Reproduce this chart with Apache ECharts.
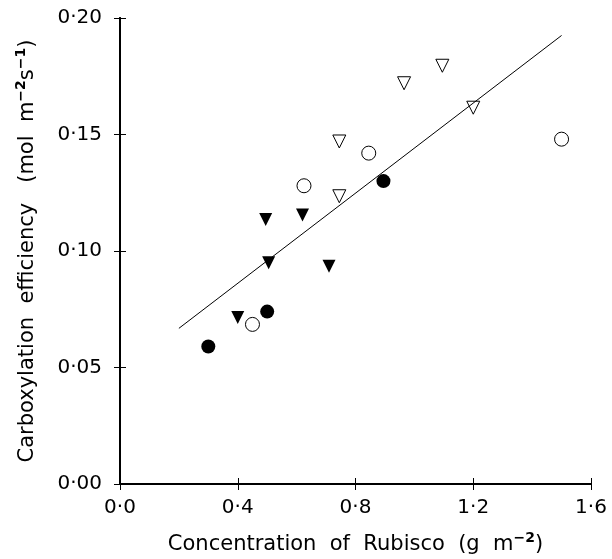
<!DOCTYPE html>
<html lang="en">
<head>
    <meta charset="UTF-8">
    <script src="https://cdn.jsdelivr.net/npm/echarts@6/dist/echarts.min.js"></script>
    <title>Carboxylation efficiency vs Rubisco</title>
    <style>
        html, body { margin: 0; padding: 0; background: #fff; }
        #chart { width: 612px; height: 559px; }
    </style>
</head>
<body>
    <div id="chart"></div>
    <script>
        // data: [Rubisco g m-2, carboxylation efficiency]
        var filledCircles = [[0.30, 0.059], [0.50, 0.074], [0.895, 0.130]];
        var openCircles = [[0.45, 0.0685], [0.625, 0.128], [0.845, 0.142], [1.50, 0.148]];
        var filledTriangles = [[0.40, 0.0715], [0.495, 0.1135], [0.505, 0.095], [0.62, 0.1155], [0.71, 0.0935]];
        var openTriangles = [[0.745, 0.147], [0.745, 0.1235], [0.965, 0.172], [1.095, 0.1795], [1.20, 0.1615]];
        // fitted line end points
        var fitLine = [[0.2, 0.0668], [1.5, 0.1925]];

        var font = 'DejaVu Sans';
        function dot(v, n) { return v.toFixed(n).replace('.', '\u00b7'); }

        var nameRich = {
            t: { fontFamily: font, fontSize: 21, color: '#000' },
            s: { fontFamily: font, fontSize: 14, fontWeight: 'bold', color: '#000', padding: [0, 0, 14, 0] }
        };

        var chart = echarts.init(document.getElementById('chart'));
        var option = {
            animation: false,
            backgroundColor: '#fff',
            grid: { left: 120, right: 21, top: 18, bottom: 75, containLabel: false, outerBoundsMode: 'none' },
            xAxis: [{
                type: 'value', min: 0, max: 1.6, interval: 0.4,
                name: '{t|Concentration  of  Rubisco  (g  m}{s|\u22122}{t|)}',
                nameLocation: 'middle', nameGap: 47,
                nameTextStyle: { rich: nameRich },
                axisLine: { lineStyle: { color: '#000', width: 2 } },
                axisTick: { inside: true, length: 6, lineStyle: { color: '#000' } },
                axisLabel: { fontFamily: font, fontSize: 20, color: '#000', margin: 14, formatter: function (v) { return dot(v, 1); } },
                splitLine: { show: false }
            }, {
                type: 'value', min: 0, max: 1.6, interval: 0.4, position: 'top',
                axisLine: { lineStyle: { color: '#000', width: 2 } },
                axisTick: { inside: true, length: 6, lineStyle: { color: '#000' } },
                axisLabel: { show: false },
                splitLine: { show: false }
            }],
            yAxis: [{
                type: 'value', min: 0, max: 0.2, interval: 0.05,
                name: '{t|Carboxylation  efficiency   (mol  m}{s|\u22122}{t|s}{s|\u22121}{t|)}',
                nameLocation: 'middle', nameGap: 78,
                nameTextStyle: { rich: nameRich },
                axisLine: { lineStyle: { color: '#000', width: 2 } },
                axisTick: { inside: true, length: 6, lineStyle: { color: '#000' } },
                axisLabel: { fontFamily: font, fontSize: 20, color: '#000', margin: 18, formatter: function (v) { return dot(v, 2); } },
                splitLine: { show: false }
            }, {
                type: 'value', min: 0, max: 0.2, interval: 0.05, position: 'right',
                axisLine: { lineStyle: { color: '#000', width: 2 } },
                axisTick: { inside: true, length: 6, lineStyle: { color: '#000' } },
                axisLabel: { show: false },
                splitLine: { show: false }
            }],
            series: [{
                type: 'line', data: fitLine, symbol: 'none',
                lineStyle: { color: '#000', width: 1 }
            }, {
                type: 'scatter', data: filledCircles, symbol: 'circle', symbolSize: 14,
                itemStyle: { color: '#000', opacity: 1 }
            }, {
                type: 'scatter', data: openCircles, symbol: 'circle', symbolSize: 14,
                itemStyle: { color: '#fff', borderColor: '#000', borderWidth: 1, opacity: 1 }
            }, {
                type: 'scatter', data: filledTriangles, symbol: 'triangle', symbolRotate: 180, symbolSize: 13,
                itemStyle: { color: '#000', opacity: 1 }
            }, {
                type: 'scatter', data: openTriangles, symbol: 'triangle', symbolRotate: 180, symbolSize: 13,
                itemStyle: { color: '#fff', borderColor: '#000', borderWidth: 1, opacity: 1 }
            }]
        };
        chart.setOption(option);
    </script>
</body>
</html>
